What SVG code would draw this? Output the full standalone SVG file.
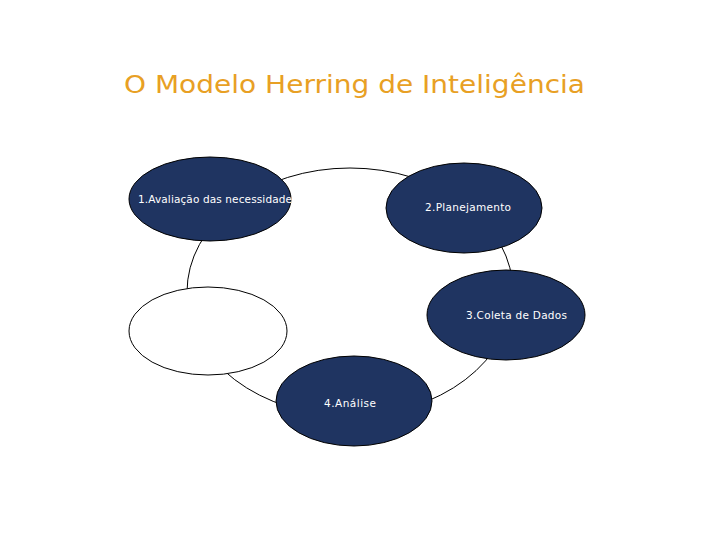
<svg xmlns="http://www.w3.org/2000/svg" width="720" height="540" viewBox="0 0 720 540">
<style>
.node{fill:#1f3461;stroke:#000;stroke-width:1}
.empty{fill:#fff;stroke:#000;stroke-width:1}
.lbl{font-family:"DejaVu Sans",Verdana,sans-serif;font-size:10.5px;fill:#fff}
.title{font-family:"DejaVu Sans",Verdana,sans-serif;font-size:25px;fill:#e8a024}
</style>
<rect width="720" height="540" fill="#fff"/>
<text class="title" x="124" y="93" textLength="461" lengthAdjust="spacingAndGlyphs">O Modelo Herring de Inteligência</text>
<g id="connectors">
<ellipse cx="350" cy="292" rx="163" ry="124" fill="none" stroke="#000" stroke-width="1"/>
</g>
<g id="node1">
<ellipse class="node" cx="210" cy="199" rx="81" ry="42"/>
<text class="lbl" x="138" y="203" textLength="154">1.Avaliação das necessidade</text>
</g>
<g id="node2">
<ellipse class="node" cx="464" cy="208" rx="78" ry="45"/>
<text class="lbl" x="425" y="211" textLength="86">2.Planejamento</text>
</g>
<g id="node3">
<ellipse class="node" cx="506" cy="315" rx="79" ry="45"/>
<text class="lbl" x="466" y="319" textLength="101">3.Coleta de Dados</text>
</g>
<g id="node4">
<ellipse class="node" cx="354" cy="401" rx="78" ry="45"/>
<text class="lbl" x="324" y="407" textLength="52">4.Análise</text>
</g>
<g id="node5">
<ellipse class="empty" cx="208" cy="331" rx="79" ry="44"/>
</g>
</svg>
